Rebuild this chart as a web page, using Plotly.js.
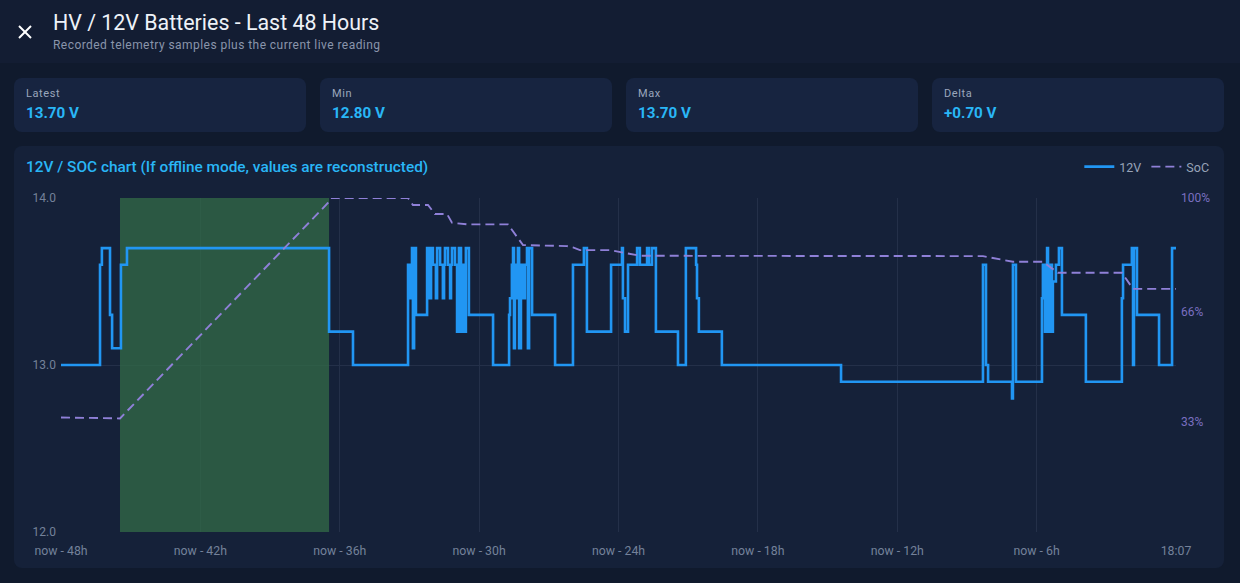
<!DOCTYPE html>
<html><head><meta charset="utf-8">
<script src="https://cdn.plot.ly/plotly-3.0.1.min.js"></script>
<style>
html,body{margin:0;padding:0;width:1240px;height:583px;overflow:hidden;background:#101a2d;font-family:Roboto,"Noto Sans",sans-serif;}
.header{position:absolute;left:0;top:0;width:1240px;height:63px;background:#131d33;}
.close{position:absolute;left:18px;top:25px;width:14px;height:14px;}
.title{position:absolute;left:53px;top:10px;font-size:21.4px;line-height:25px;color:#eef2f8;white-space:nowrap;}
.subtitle{position:absolute;left:53px;top:38px;font-size:12px;line-height:14px;color:#8a95ab;letter-spacing:0.45px;white-space:nowrap;}
.card{position:absolute;top:78px;width:292px;height:54px;background:#172440;border-radius:8px;}
.card .lab{position:absolute;left:12px;top:9px;font-size:11px;line-height:13px;color:#9aa6bc;letter-spacing:0.6px;}
.card .val{position:absolute;left:12px;top:26px;font-size:15.2px;line-height:18px;font-weight:700;color:#29b6f6;}
.chartcard{position:absolute;left:14px;top:146px;width:1210px;height:422px;background:#152139;border-radius:8px;}
#chart{position:absolute;left:0;top:0;width:1210px;height:422px;}
</style></head>
<body>
<div class="header">
  <svg class="close" viewBox="0 0 14 14"><line x1="1" y1="1" x2="13" y2="13" stroke="#ffffff" stroke-width="2"/><line x1="13" y1="1" x2="1" y2="13" stroke="#ffffff" stroke-width="2"/></svg>
  <div class="title">HV / 12V Batteries - Last 48 Hours</div>
  <div class="subtitle">Recorded telemetry samples plus the current live reading</div>
</div>
<div id="cards"></div>
<div class="chartcard"><div id="chart"></div></div>
<script>
// Stat cards
const statLabels = ['Latest', 'Min', 'Max', 'Delta'];
const statValues = ['13.70 V', '12.80 V', '13.70 V', '+0.70 V'];

// 12V battery voltage (step samples), x = hours relative to now
const voltHours = [-48.00,-46.32,-46.24,-45.89,-45.80,-45.42,-45.16,-36.46,-35.43,-33.06,
 -32.98,-32.93,-32.89,-32.85,-32.80,-32.72,-32.24,-32.16,-32.07,-31.99,
 -31.86,-31.81,-31.68,-31.56,-31.51,-31.47,-31.34,-31.25,-31.21,-31.17,
 -31.04,-30.95,-30.87,-30.78,-30.69,-30.61,-30.57,-30.44,-29.40,-28.71,
 -28.67,-28.59,-28.54,-28.50,-28.46,-28.37,-28.33,-28.28,-28.20,-28.11,
 -28.03,-27.94,-27.90,-27.85,-27.72,-26.73,-25.96,-25.49,-25.36,-24.32,
 -23.85,-23.81,-23.72,-23.59,-23.20,-23.08,-22.77,-22.69,-22.56,-22.39,
 -21.44,-21.10,-20.66,-20.62,-20.54,-19.55,-14.42,-8.31,-8.18,-8.09,
 -7.06,-7.02,-6.89,-5.77,-5.73,-5.64,-5.55,-5.51,-5.43,-5.34,
 -5.30,-5.17,-5.04,-4.91,-3.88,-2.33,-2.28,-1.90,-1.85,-1.81,
 -1.68,-0.73,-0.17,0.00];
const voltValues = [13.0,13.6,13.7,13.3,13.1,13.6,13.7,13.2,13.0,13.6,
 13.4,13.6,13.7,13.1,13.7,13.3,13.7,13.4,13.7,13.6,
 13.4,13.7,13.6,13.4,13.6,13.7,13.6,13.4,13.6,13.7,
 13.6,13.2,13.7,13.2,13.6,13.2,13.7,13.3,13.0,13.3,
 13.4,13.6,13.7,13.1,13.6,13.4,13.7,13.1,13.6,13.4,
 13.6,13.7,13.1,13.7,13.3,13.0,13.6,13.7,13.2,13.6,
 13.7,13.4,13.2,13.6,13.7,13.6,13.7,13.6,13.7,13.2,
 13.0,13.7,13.6,13.4,13.2,13.0,12.9,13.6,13.0,12.9,
 12.8,13.6,12.9,13.4,13.6,13.2,13.7,13.2,13.6,13.2,
 13.5,13.6,13.7,13.3,12.9,13.4,13.6,13.7,13.0,13.7,
 13.3,13.0,13.7,13.7];

// State of charge (%), x = hours relative to now
const socHours = [-48.00,-45.46,-36.51,-36.38,-33.06,-32.85,-32.20,-31.90,-31.38,-31.17,
 -30.52,-28.76,-28.11,-26.22,-25.96,-25.66,-24.37,-23.08,-8.31,-7.02,
 -5.73,-5.08,-2.33,-1.85,0.00];
const socValues = [34.3,34.0,98.5,100,100,97.9,97.9,95.2,95.2,92.6,
 92.1,92.1,85.9,85.6,85.2,84.4,84.4,82.7,82.6,80.9,
 80.9,77.6,77.6,72.8,72.8];

// Highlighted (charging) window, hours relative to now
const chargeWindow = [-45.46, -36.46];

// Axis ticks
const xTickHours = [-48,-42,-36,-30,-24,-18,-12,-6,0];
const xTickLabels = ['now - 48h','now - 42h','now - 36h','now - 30h','now - 24h','now - 18h','now - 12h','now - 6h','18:07'];
const voltTicks = [12,13,14];
const voltTickLabels = ['12.0','13.0','14.0'];
const socTicks = [33,66,100];
const socTickLabels = ['33%','66%','100%'];

const cardsEl = document.getElementById('cards');
statLabels.forEach((l, i) => {
  const d = document.createElement('div');
  d.className = 'card';
  d.style.left = (14 + i * 306) + 'px';
  d.innerHTML = '<div class="lab">' + l + '</div><div class="val">' + statValues[i] + '</div>';
  cardsEl.appendChild(d);
});

const traces = [
  {x: voltHours, y: voltValues, name: '12V', type: 'scatter', mode: 'lines',
   line: {shape: 'hv', color: '#2196f3', width: 2.6}, yaxis: 'y'},
  {x: socHours, y: socValues, name: 'SoC', type: 'scatter', mode: 'lines',
   line: {color: '#8f80d8', width: 1.9, dash: '9px,5px'}, yaxis: 'y2'}
];

const gridCol = '#243049';
const layout = {
  width: 1210, height: 422,
  margin: {l: 47, r: 48, t: 52, b: 36},
  paper_bgcolor: 'rgba(0,0,0,0)', plot_bgcolor: 'rgba(0,0,0,0)',
  font: {family: 'Roboto, "Noto Sans", sans-serif', size: 12, color: '#74819a'},
  title: {text: '12V / SOC chart (If offline mode, values are reconstructed)',
    x: 12/1210, xref: 'container', xanchor: 'left', y: 1 - 21/422, yref: 'container', yanchor: 'middle',
    font: {size: 15.4, color: '#29b6f6', family: 'Roboto, sans-serif', weight: 500}},
  showlegend: true,
  legend: {orientation: 'h', xref: 'container', yref: 'container', x: 0.992, xanchor: 'right',
    y: 1 - 21/422, yanchor: 'middle', font: {size: 12.5, color: '#98a3b8'}, itemwidth: 30,
    bgcolor: 'rgba(0,0,0,0)'},
  xaxis: {range: [-48, 0], tickmode: 'array', tickvals: xTickHours, ticktext: xTickLabels,
    showgrid: true, gridcolor: gridCol, gridwidth: 1, zeroline: false, showline: false,
    ticks: '', tickfont: {size: 12.3, color: '#74819a'}, ticklabelstandoff: 10, fixedrange: true},
  yaxis: {range: [12, 14], tickmode: 'array', tickvals: voltTicks, ticktext: voltTickLabels,
    showgrid: true, gridcolor: gridCol, gridwidth: 1, zeroline: false, showline: false,
    ticks: '', tickfont: {size: 12, color: '#74819a'}, ticklabelstandoff: 4},
  yaxis2: {range: [0, 100], overlaying: 'y', side: 'right', tickmode: 'array',
    tickvals: socTicks, ticktext: socTickLabels, showgrid: false, zeroline: false, showline: false,
    ticks: '', tickfont: {size: 12, color: '#7a6fc0'}, ticklabelstandoff: 4},
  shapes: [{type: 'rect', xref: 'x', yref: 'y', x0: chargeWindow[0], x1: chargeWindow[1],
    y0: 12, y1: 14, fillcolor: 'rgba(50,107,71,0.76)', line: {width: 0}, layer: 'between'}]
};

Plotly.newPlot('chart', traces, layout, {staticPlot: true, displayModeBar: false});
</script>
</body></html>
